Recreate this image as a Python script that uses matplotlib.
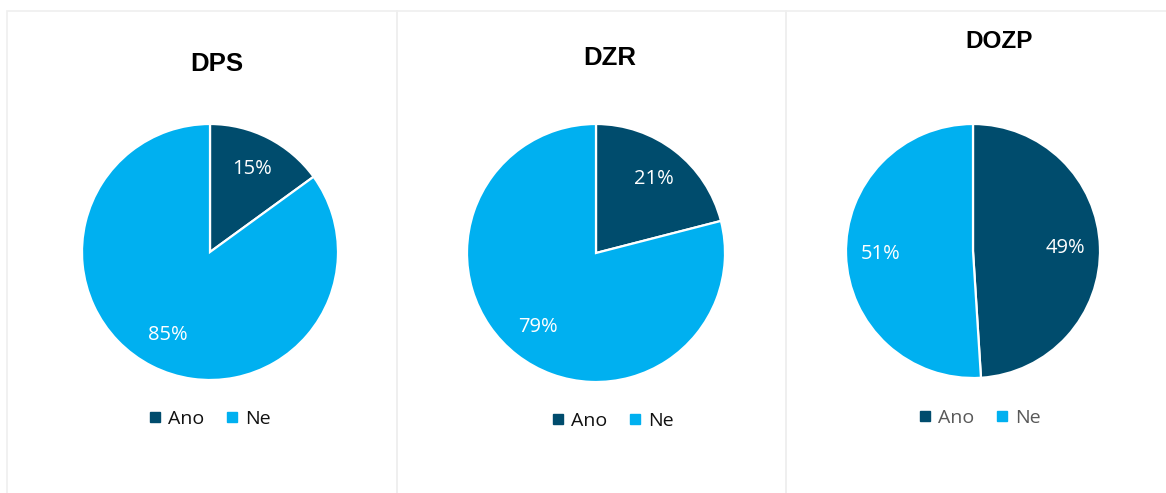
import matplotlib
matplotlib.use("Agg")
import matplotlib.pyplot as plt
from matplotlib.patches import Rectangle
from matplotlib.lines import Line2D

# Survey answers per programme
titles = ["DPS", "DZR", "DOZP"]
categories = ["Ano", "Ne"]
shares = [
    [15, 85],
    [21, 79],
    [49, 51],
]

colors = ["#004C6D", "#00B0F0"]
legend_text_colors = ["#111111", "#111111", "#595959"]
title_sizes = [18.5, 18.5, 17.5]

W, H = 1166, 493
fig = plt.figure(figsize=(W / 100, H / 100), dpi=100)
fig.patch.set_facecolor("white")


def fx(px):
    return px / W


def fy(py):
    return 1 - py / H


# Panel frames (left, right) in pixels; they run past the bottom edge
panels = [(7, 397), (397, 786), (786, 1170)]
for x0, x1 in panels:
    fig.add_artist(Rectangle((fx(x0), fy(H + 20)), fx(x1 - x0), (H + 20 - 11) / H,
                             transform=fig.transFigure, fill=False,
                             edgecolor="#efefef", linewidth=1.2, zorder=0))

# Pie centres and radii in pixels
pie_geom = [(210, 252, 128), (596, 253, 129), (973, 251, 127)]
# Title positions (centre x, baseline y)
title_pos = [(216.5, 71), (610, 65), (999.5, 48)]
# Legend centres
legend_pos = [(210, 419), (613, 421), (980, 418)]

for i, (title, vals) in enumerate(zip(titles, shares)):
    cx, cy, r = pie_geom[i]
    ax = fig.add_axes([fx(cx - r), fy(cy + r), fx(2 * r), 2 * r / H])
    ax.pie(vals, colors=colors, startangle=90, counterclock=False,
           autopct=lambda p: f"{p:.0f}%", pctdistance=0.73,
           wedgeprops=dict(edgecolor="white", linewidth=1.6),
           textprops=dict(color="white", fontsize=14.5, family="Open Sans"))
    ax.set_xlim(-1, 1)
    ax.set_ylim(-1, 1)
    ax.set_aspect("equal")
    ax.axis("off")

    tx, ty = title_pos[i]
    fig.text(fx(tx), fy(ty), title, ha="center", va="baseline",
             fontsize=title_sizes[i], fontweight="bold", family="Liberation Sans",
             color="black")

    handles = [Line2D([], [], linestyle="none", marker="s", markersize=7,
                      markerfacecolor=c, markeredgecolor=c) for c in colors]
    lx, ly = legend_pos[i]
    leg = fig.legend(handles, categories, loc="center", ncol=2,
                     bbox_to_anchor=(fx(lx), fy(ly)), frameon=False,
                     prop=dict(family="Open Sans", size=14),
                     handlelength=0.6, handletextpad=0.4, columnspacing=1.1,
                     borderpad=0, borderaxespad=0)
    for t in leg.get_texts():
        t.set_color(legend_text_colors[i])

fig.savefig("out.png", dpi=100, facecolor="white")
